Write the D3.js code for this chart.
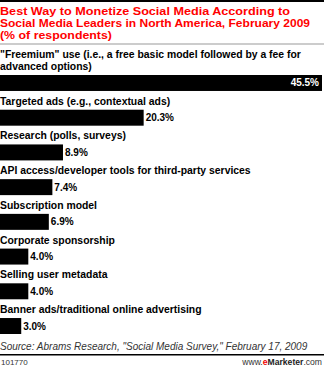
<!DOCTYPE html>
<html><head><meta charset="utf-8">
<script src="https://cdn.jsdelivr.net/npm/d3@7"></script>
<style>body{margin:0;background:#fff}svg{display:block}</style>
</head><body>
<script>
const titleLines = ["Best Way to Monetize Social Media According to", "Social Media Leaders in North America, February 2009", "(% of respondents)"];
const titleWidths = [290, 310, 112];
const categories = [
  ["\"Freemium\" use (i.e., a free basic model followed by a fee for", "advanced options)"],
  ["Targeted ads (e.g., contextual ads)"],
  ["Research (polls, surveys)"],
  ["API access/developer tools for third-party services"],
  ["Subscription model"],
  ["Corporate sponsorship"],
  ["Selling user metadata"],
  ["Banner ads/traditional online advertising"]
];
const values = [45.5, 20.3, 8.9, 7.4, 6.9, 4.0, 4.0, 3.0];
const sourceText = "Source: Abrams Research, \"Social Media Survey,\" February 17, 2009";
const chartId = "101770";

const W = 324, H = 367;
const svg = d3.select("body").append("svg").attr("width", W).attr("height", H);
const font = "Arial, 'Liberation Sans', sans-serif";

svg.append("rect").attr("x", 0).attr("y", 0).attr("width", W).attr("height", 2).attr("fill", "#000");
svg.append("g").selectAll("text").data(titleLines).join("text")
  .attr("x", 0).attr("y", (d, i) => 14.8 + i * 12.2)
  .attr("font-family", font).attr("font-weight", "bold").attr("font-size", 11)
  .attr("textLength", (d, i) => titleWidths[i]).attr("lengthAdjust", "spacingAndGlyphs")
  .attr("fill", "#ff0000").text(d => d);
svg.append("rect").attr("x", 0).attr("y", 43.5).attr("width", W).attr("height", 1).attr("fill", "#999");

const idx = d3.range(values.length);
const x = d3.scaleLinear().domain([0, 45.5]).range([0, 322]);
const y = d3.scaleBand().domain(idx).range([75, 334]).paddingInner(0.54).paddingOuter(0);

const g = svg.append("g");
idx.forEach(i => {
  const top = y(i);
  const lines = categories[i];
  lines.forEach((ln, j) => {
    g.append("text").attr("x", 0).attr("y", top - 5 - (lines.length - 1 - j) * 12.5)
      .attr("font-family", font).attr("font-weight", "bold").attr("font-size", 10.4)
      .attr("fill", "#000").text(ln);
  });
  g.append("rect").attr("x", x(0)).attr("y", top).attr("width", x(values[i]) - x(0))
    .attr("height", y.bandwidth()).attr("fill", "#000");
  const inside = i === 0;
  g.append("text")
    .attr("x", inside ? x(values[i]) - 3 : x(values[i]) + 2)
    .attr("y", top + y.bandwidth() / 2 + 3.5)
    .attr("text-anchor", inside ? "end" : "start")
    .attr("font-family", font).attr("font-weight", "bold").attr("font-size", 10)
    .attr("fill", inside ? "#fff" : "#000").text(values[i].toFixed(1) + "%");
});

svg.append("text").attr("x", 0).attr("y", 350).attr("font-family", font).attr("font-style", "italic")
  .attr("font-size", 10).attr("fill", "#333").text(sourceText);
svg.append("rect").attr("x", 0).attr("y", 354).attr("width", W).attr("height", 1.5).attr("fill", "#000");
svg.append("text").attr("x", 1).attr("y", 365).attr("font-family", font).attr("font-size", 8)
  .attr("fill", "#333").text(chartId);
const ft = svg.append("text").attr("x", 322).attr("y", 365).attr("text-anchor", "end")
  .attr("font-family", font).attr("font-size", 8.6).attr("fill", "#333");
ft.append("tspan").text("www.");
ft.append("tspan").attr("fill", "#e00").attr("font-weight", "bold").text("e");
ft.append("tspan").attr("font-weight", "bold").attr("fill", "#222").text("Marketer");
ft.append("tspan").text(".com");
</script>
</body></html>
